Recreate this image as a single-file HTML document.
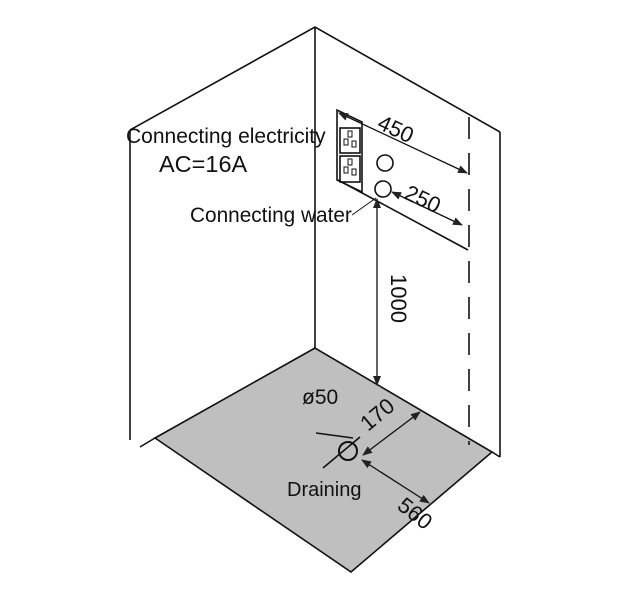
<!DOCTYPE html>
<html><head><style>body{margin:0;background:#fff}svg{display:block}text{font-family:"Liberation Sans",sans-serif;fill:#111}</style></head><body>
<svg width="635" height="600" viewBox="0 0 635 600" xmlns="http://www.w3.org/2000/svg">
<defs><marker id="a" markerWidth="10" markerHeight="8" refX="9" refY="4" orient="auto-start-reverse" markerUnits="userSpaceOnUse"><path d="M0,0 L10,4 L0,8 z" fill="#222"/></marker></defs>
<polygon points="315,348 155,438 351,572 492,452" fill="#bfbfbf" stroke="#111" stroke-width="1.6"/>
<g stroke="#111" stroke-width="1.6" fill="none">
<polyline points="130,130 315,27 500,132"/>
<line x1="130" y1="130" x2="130" y2="440"/>
<line x1="140" y1="447" x2="155" y2="438"/>
<line x1="315" y1="27" x2="315" y2="348"/>
<line x1="500" y1="132" x2="500" y2="457"/>
<line x1="492" y1="452" x2="500" y2="457"/>
<line x1="469" y1="117" x2="469" y2="445" stroke-dasharray="22,14"/>
<polygon points="337,110 337,180 362,192 362,122"/>
<rect x="340" y="128" width="20" height="25"/><rect x="340" y="156" width="20" height="26"/>
<g stroke-width="1"><rect x="348" y="131" width="4" height="6"/><rect x="344" y="139" width="4" height="6"/><rect x="352" y="141" width="4" height="6"/>
<rect x="348" y="159" width="4" height="6"/><rect x="344" y="167" width="4" height="6"/><rect x="352" y="169" width="4" height="6"/></g>
<circle cx="385" cy="163" r="8"/><circle cx="383" cy="189" r="8"/>
<line x1="338" y1="180" x2="468" y2="250"/>
<line x1="339" y1="113" x2="467" y2="173" marker-start="url(#a)" marker-end="url(#a)" stroke-width="1.3"/>
<line x1="392" y1="192" x2="462" y2="225" marker-start="url(#a)" marker-end="url(#a)" stroke-width="1.3"/>
<line x1="377" y1="199" x2="377" y2="385" marker-start="url(#a)" marker-end="url(#a)" stroke-width="1.3"/>
<line x1="352" y1="215" x2="376" y2="198" stroke-width="1"/>
<circle cx="348" cy="451" r="9" stroke-width="2"/>
<line x1="316" y1="433" x2="353" y2="438"/>
<line x1="323" y1="468" x2="360" y2="437"/>
<line x1="363" y1="455" x2="420" y2="412" marker-start="url(#a)" marker-end="url(#a)" stroke-width="1.3"/>
<line x1="362" y1="460" x2="429" y2="503" marker-start="url(#a)" marker-end="url(#a)" stroke-width="1.3"/>
</g>
<text x="126" y="143" font-size="21">Connecting electricity</text>
<text x="159" y="172" font-size="23.5">AC=16A</text>
<text x="190" y="222" font-size="20.8">Connecting water</text>
<text x="0" y="0" font-size="22" transform="translate(376,128) rotate(25)">450</text>
<text x="0" y="0" font-size="22" transform="translate(403,198) rotate(25)">250</text>
<text x="0" y="0" font-size="22" transform="translate(391,274) rotate(90)">1000</text>
<text x="302" y="404" font-size="21">ø50</text>
<text x="0" y="0" font-size="22" transform="translate(368,432) rotate(-40)">170</text>
<text x="0" y="0" font-size="22" transform="translate(396,508) rotate(38)">560</text>
<text x="287" y="496" font-size="20">Draining</text>
</svg>
</body></html>
